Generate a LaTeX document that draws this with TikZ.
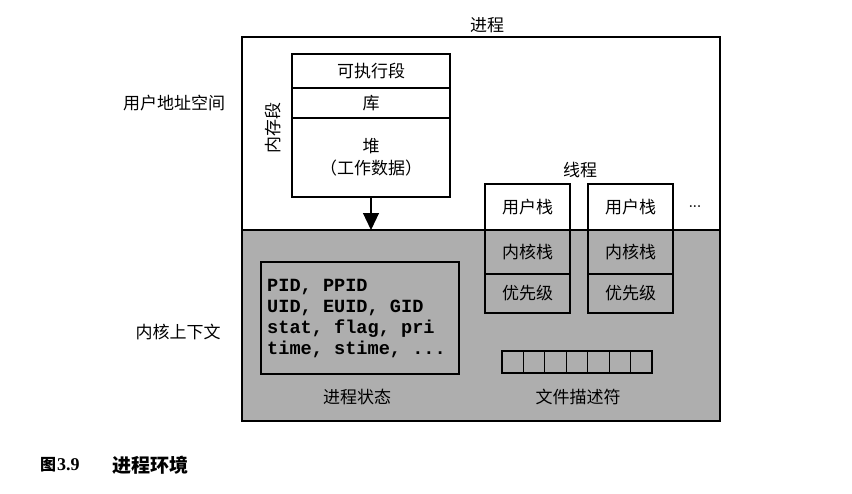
\documentclass[tikz,border=0pt]{standalone}
\usepackage{fontspec}
\usetikzlibrary{arrows.meta}
\newfontfamily\cjk{Noto Sans CJK SC}
\newfontfamily\monof{Liberation Mono}
\newfontfamily\serifb{Liberation Serif}
\definecolor{kgray}{RGB}{174,174,174}
\tikzset{
  lbl/.style={font=\cjk\fontsize{17}{20}\selectfont, inner sep=0pt},
  cell/.style={draw, line width=1.2pt, inner sep=0pt, font=\cjk\fontsize{17}{22}\selectfont, align=center},
  fdcell/.style={draw, line width=1.1pt, minimum width=21.43pt, minimum height=22pt, inner sep=0pt},
}
\begin{document}
\begin{tikzpicture}[x=1pt,y=-1pt]
\useasboundingbox (0,0) rectangle (852,493);
% kernel (gray) region
\fill[kgray] (242,230) rectangle (720,421);
\draw[line width=1.2pt] (242,230) -- (720,230);
% outer process box
\node[draw, line width=1.2pt, minimum width=478pt, minimum height=384pt, inner sep=0pt] (proc) at (481,229) {};
\node[lbl] (ptitle) at (487,25) {进程};
% left labels
\node[lbl] (uas) at (174,103) {用户地址空间};
\node[lbl] (kctx) at (178,332) {内核上下文};
% memory segments
\node[cell, minimum width=158pt, minimum height=34pt] (exec) at (371,71) {可执行段};
\node[cell, minimum width=158pt, minimum height=30pt] (lib) at (371,103) {库};
\node[cell, minimum width=158pt, minimum height=79pt] (heap) at (371,157.5) {堆\\（工作数据）};
\node[lbl, rotate=90] (memseg) at (273,128) {内存段};
\coordinate (arrend) at (371,230);
\draw[line width=1.2pt, -{Triangle[length=17pt,width=16pt]}] (heap.south) -- (arrend);
% threads
\node[lbl] (thr) at (580,170) {线程};
\node[cell, minimum width=85pt, minimum height=46pt] (us1) at (527.5,207) {用户栈};
\node[cell, minimum width=85pt, minimum height=44pt] (ks1) at (527.5,252) {内核栈};
\node[cell, minimum width=85pt, minimum height=39pt] (pr1) at (527.5,293.5) {优先级};
\node[cell, minimum width=85pt, minimum height=46pt] (us2) at (630.5,207) {用户栈};
\node[cell, minimum width=85pt, minimum height=44pt] (ks2) at (630.5,252) {内核栈};
\node[cell, minimum width=85pt, minimum height=39pt] (pr2) at (630.5,293.5) {优先级};
\node[font=\bfseries\fontsize{13}{14}\selectfont, inner sep=0pt] (more) at (695,207) {...};
% process state
\node[draw, line width=1.2pt, minimum width=198pt, minimum height=112pt, inner sep=0pt] (pstate) at (360,318) {};
\node[anchor=west, align=left, inner sep=0pt, font=\monof\bfseries\fontsize{18.6}{21}\selectfont] (pstext) at (267,319)
  {PID, PPID\\UID, EUID, GID\\stat, flag, pri\\time, stime, ...};
\node[lbl] (pslabel) at (357,397) {进程状态};
% file descriptors
\foreach \i in {0,...,6} {
  \node[fdcell] (fd\i) at ({512.7+21.43*\i},362) {};
}
\node[lbl] (fdlabel) at (578,397) {文件描述符};
% caption
\node[anchor=west, inner sep=0pt, font=\cjk\bfseries\fontsize{16}{18}\selectfont] (capfig) at (40,465) {图};
\node[anchor=west, inner sep=0pt, font=\serifb\bfseries\fontsize{18}{20}\selectfont] (capnum) at (57,465) {3.9};
\node[anchor=west, inner sep=0pt, font=\cjk\bfseries\fontsize{19}{20}\selectfont] (captext) at (112,465) {进程环境};
\end{tikzpicture}
\end{document}
